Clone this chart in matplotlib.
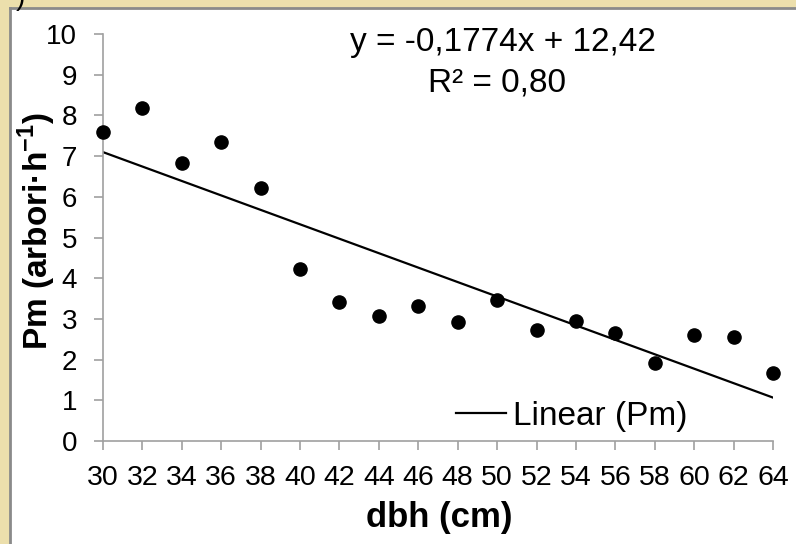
import numpy as np
import matplotlib.pyplot as plt
from matplotlib.patches import Rectangle
from matplotlib.lines import Line2D

plt.rcParams['font.family'] = ['Liberation Sans', 'DejaVu Sans']

# data
dbh = [30, 32, 34, 36, 38, 40, 42, 44, 46, 48, 50, 52, 54, 56, 58, 60, 62, 64]
pm = [7.59, 8.18, 6.83, 7.35, 6.22, 4.23, 3.42, 3.07, 3.32, 2.92, 3.46, 2.73,
      2.95, 2.65, 1.92, 2.60, 2.56, 1.67]
slope = -0.1774
intercept = 12.42
x_ticks = list(range(30, 65, 2))
y_ticks = list(range(0, 11))

W, H = 796, 544
fig = plt.figure(figsize=(W / 100, H / 100), dpi=100, facecolor='#ECDFAC')


def fx(px):
    return px / W


def fy(py):
    return 1 - py / H


# white panel with grey top/left edge
fig.patches.append(Rectangle((fx(10), 0), 1, fy(8), transform=fig.transFigure,
                             facecolor='white', edgecolor='none', zorder=-10))
fig.lines.append(Line2D([fx(10), 1], [fy(8), fy(8)], transform=fig.transFigure,
                        color='#8a8a8a', lw=2, zorder=-9))
fig.lines.append(Line2D([fx(10), fx(10)], [0, fy(8)], transform=fig.transFigure,
                        color='#8a8a8a', lw=2, zorder=-9))
fig.text(fx(20), fy(-2), ')', fontsize=20, ha='center', va='center')

ax = fig.add_axes([fx(103), fy(441), (773 - 103) / W, (441 - 34) / H])
ax.set_facecolor('white')

ax.scatter(dbh, pm, s=90, color='black', zorder=3, clip_on=False)
xs = np.array([min(dbh), max(dbh)])
ax.plot(xs, slope * xs + intercept, color='black', lw=1.6, label='Linear (Pm)')

ax.set_xlim(30, 64)
ax.set_ylim(0, 10)
ax.set_xticks(x_ticks)
ax.set_yticks(y_ticks)
ax.tick_params(axis='both', color='#a0a0a0', length=6.5, width=1.2, direction='out')
ax.tick_params(axis='x', labelsize=20.5, pad=11)
ax.tick_params(axis='y', labelsize=20, pad=12)
for side in ['top', 'right']:
    ax.spines[side].set_visible(False)
for side in ['left', 'bottom']:
    ax.spines[side].set_color('#a0a0a0')
    ax.spines[side].set_linewidth(1.2)

# axis titles
fig.text(fx(439), fy(518), 'dbh (cm)', fontsize=25, fontweight='bold',
         ha='center', va='center')
fig.text(fx(37), fy(231), 'Pm (arbori·h$^{\\mathregular{-1}}$)', fontsize=24,
         fontweight='bold', rotation=90, ha='center', va='center')

# trend line equation
fig.text(fx(503), fy(43), 'y = -0,1774x + 12,42', fontsize=24, ha='center', va='center')
fig.text(fx(497), fy(83), 'R² = 0,80', fontsize=24, ha='center', va='center')

ax.legend(loc='center left', bbox_to_anchor=(fx(456), fy(416)),
          bbox_transform=fig.transFigure, frameon=False, fontsize=24,
          borderpad=0, borderaxespad=0, handlelength=1.5, handletextpad=0.2)

fig.savefig('out.png', dpi=100, facecolor=fig.get_facecolor())
